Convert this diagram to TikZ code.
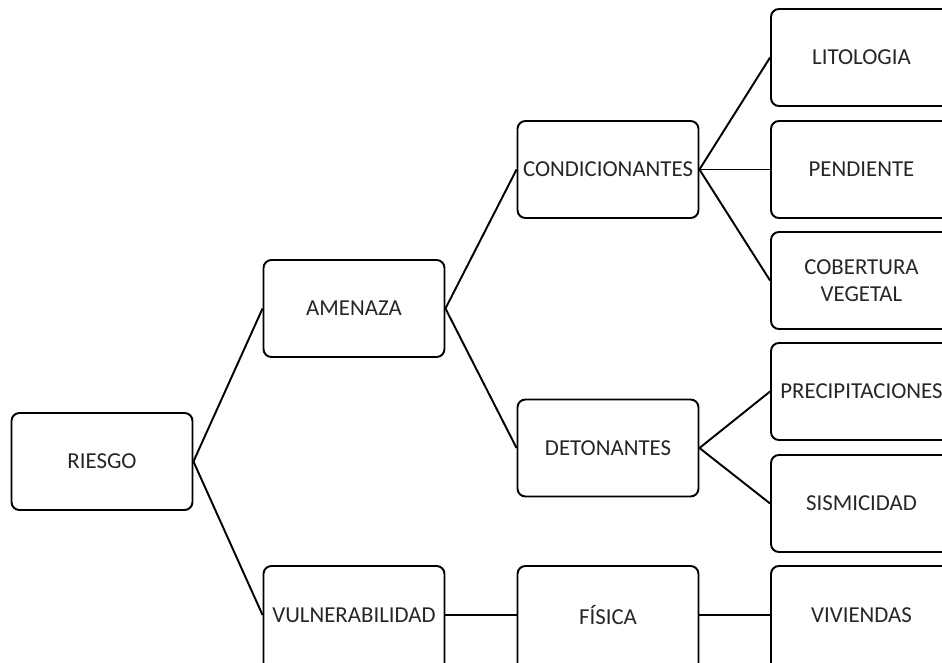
\documentclass[tikz,border=0pt]{standalone}
\usepackage{fontspec}
\setmainfont{Carlito}
\begin{document}
\begin{tikzpicture}[x=0.02cm,y=-0.02cm,
  box/.style={draw=black,line width=1.1pt,rounded corners=4.5pt,minimum width=3.62cm,minimum height=1.94cm,inner sep=0pt,align=center,font=\fontsize{13}{15.6}\selectfont,text=black!85},
  lowbox/.style={box,minimum height=2.2cm},
  link/.style={draw=black,line width=1.1pt}]
\useasboundingbox (0,0) rectangle (942,662);
\clip (0,0) rectangle (942,662);
\node[box] (riesgo) at (102,461.5) {RIESGO};
\node[box] (amenaza) at (354,308.5) {AMENAZA};
\node[lowbox] (vuln) at (354,621) {\raisebox{0.24cm}{VULNERABILIDAD}};
\node[box] (cond) at (608,169.5) {CONDICIONANTES};
\node[box] (deton) at (608,448) {DETONANTES};
\node[lowbox] (fisica) at (608,621) {\raisebox{0.24cm}{FÍSICA}};
\node[box] (lito) at (861.5,57.5) {LITOLOGIA};
\node[box] (pend) at (861.5,169.5) {PENDIENTE};
\node[box] (cober) at (861.5,280.5) {COBERTURA\\VEGETAL};
\node[box] (precip) at (861.5,391.5) {PRECIPITACIONES};
\node[box] (sism) at (861.5,503.5) {SISMICIDAD};
\node[lowbox] (viv) at (861.5,621) {\raisebox{0.24cm}{VIVIENDAS}};
\coordinate (vulnw) at ([yshift=0.12cm]vuln.west);
\coordinate (vulne) at ([yshift=0.12cm]vuln.east);
\coordinate (fisw) at ([yshift=0.12cm]fisica.west);
\coordinate (fise) at ([yshift=0.12cm]fisica.east);
\coordinate (vivw) at ([yshift=0.12cm]viv.west);
\draw[link] (riesgo.east) -- (amenaza.west);
\draw[link] (riesgo.east) -- (vulnw);
\draw[link] (amenaza.east) -- (cond.west);
\draw[link] (amenaza.east) -- (deton.west);
\draw[link] (cond.east) -- (lito.west);
\draw[link] (cond.east) -- (pend.west);
\draw[link] (cond.east) -- (cober.west);
\draw[link] (deton.east) -- (precip.west);
\draw[link] (deton.east) -- (sism.west);
\draw[link] (vulne) -- (fisw);
\draw[link] (fise) -- (vivw);
\end{tikzpicture}
\end{document}
